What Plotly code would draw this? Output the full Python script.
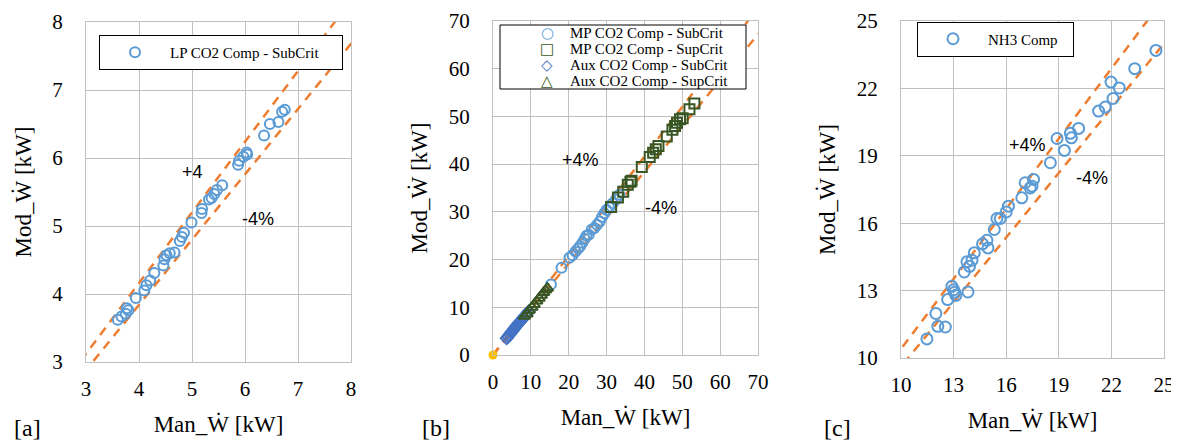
import plotly.graph_objects as go

# ---------------- data ----------------
# Panel [a]: LP CO2 compressor, sub-critical
a_man = [3.60, 3.67, 3.75, 3.80, 3.77, 3.94, 4.10, 4.14, 4.21, 4.29, 4.46, 4.48, 4.52, 4.58,
         4.67, 4.77, 4.81, 4.85, 4.99, 5.18, 5.19, 5.32, 5.37, 5.42, 5.47, 5.57, 5.87, 5.89,
         5.97, 6.03, 6.04, 6.36, 6.47, 6.63, 6.70, 6.75]
a_mod = [3.62, 3.67, 3.71, 3.76, 3.79, 3.94, 4.05, 4.13, 4.20, 4.31, 4.42, 4.51, 4.57, 4.60,
         4.61, 4.78, 4.84, 4.90, 5.05, 5.19, 5.25, 5.39, 5.41, 5.47, 5.53, 5.60, 5.90, 5.96,
         6.02, 6.08, 6.05, 6.33, 6.50, 6.53, 6.68, 6.71]

# Panel [b]
b_mp_sub_man = [15.3, 18.1, 20.2, 21.0, 21.8, 22.5, 23.0, 23.6, 24.2, 24.7, 25.3, 26.1, 26.8,
                27.5, 28.2, 28.8, 29.4, 30.0, 30.7, 31.6, 32.5, 33.4]
b_mp_sub_mod = [14.8, 18.3, 20.4, 20.9, 21.7, 22.3, 22.8, 23.5, 24.3, 25.0, 25.2, 26.3, 26.6,
                27.3, 28.0, 28.9, 29.7, 30.4, 30.9, 31.8, 32.6, 33.6]
b_mp_sup_man = [31.2, 33.0, 34.4, 35.6, 36.3, 36.6, 39.3, 41.4, 42.3, 43.0, 43.7, 45.9, 47.4,
                48.1, 48.6, 49.4, 50.1, 51.9, 53.2]
b_mp_sup_mod = [31.0, 33.0, 34.2, 35.7, 36.3, 36.5, 39.4, 41.5, 42.4, 43.1, 43.8, 45.8, 47.2,
                48.0, 48.7, 49.4, 49.6, 51.5, 52.7]
b_aux_sub_man = [3.6, 4.0, 4.4, 4.8, 5.2, 5.6, 6.0, 6.4, 6.8, 7.2, 7.6, 8.0, 8.5, 9.0, 9.4]
b_aux_sub_mod = [3.5, 3.9, 4.3, 4.7, 5.1, 5.5, 5.9, 6.3, 6.7, 7.0, 7.4, 7.8, 8.3, 8.7, 9.1]
b_aux_sup_man = [8.3, 9.0, 9.6, 10.3, 10.9, 11.6, 12.2, 12.8, 13.4, 13.9, 14.4]
b_aux_sup_mod = [8.1, 8.6, 9.4, 10.0, 10.6, 11.3, 11.9, 12.5, 13.1, 13.6, 14.0]
b_origin = [0.0]

# Panel [c]: NH3 compressor
c_man = [11.48, 11.99, 12.10, 12.53, 12.66, 12.90, 13.00, 13.13, 13.06, 13.82, 13.61, 13.76,
         13.91, 14.05, 14.18, 14.65, 14.90, 14.96, 15.32, 15.47, 15.66, 16.00, 16.13, 16.89,
         17.08, 17.37, 17.47, 17.56, 18.52, 18.90, 19.32, 19.66, 19.72, 20.13, 21.27, 21.65,
         21.98, 22.09, 22.45, 23.33, 24.54]
c_mod = [10.85, 11.98, 11.41, 11.38, 12.60, 13.19, 13.04, 12.79, 12.93, 12.94, 13.83, 14.28,
         14.08, 14.35, 14.68, 15.08, 15.24, 14.90, 15.72, 16.21, 16.21, 16.50, 16.76, 17.13,
         17.80, 17.57, 17.65, 17.95, 18.69, 19.77, 19.24, 20.00, 19.80, 20.22, 20.99, 21.17,
         22.28, 21.55, 22.02, 22.88, 23.69]

band_factors = [1.04, 0.96]
a_ticks = [3, 4, 5, 6, 7, 8]
b_ticks = [0, 10, 20, 30, 40, 50, 60, 70]
c_ticks = [10, 13, 16, 19, 22, 25]

b_names = ["MP CO2 Comp - SubCrit", "MP CO2 Comp - SupCrit",
           "Aux CO2 Comp - SubCrit", "Aux CO2 Comp - SupCrit"]

# ---------------- style ----------------
BLUE = "#5B9BD5"
DBLUE = "#4472C4"
GREEN = "#375623"
ORANGE = "#ED7D31"
GOLD = "#FFC000"
GRID = "#C0C0C0"
SERIF = "Liberation Serif, Times New Roman, serif"
SANS = "Liberation Sans, Arial, sans-serif"

fig = go.Figure()

def band(xa, ya, xmin, xmax):
    for f in band_factors:
        fig.add_trace(go.Scatter(
            x=[xmin, xmax], y=[f * xmin, f * xmax], mode="lines",
            line=dict(color=ORANGE, width=2.5, dash="9px,7px"),
            showlegend=False, hoverinfo="skip", xaxis=xa, yaxis=ya))

# panel a
band("x", "y", 2, 9)
fig.add_trace(go.Scatter(x=a_man, y=a_mod, mode="markers", name="LP CO2 Comp - SubCrit",
                         marker=dict(symbol="circle-open", size=10, color=BLUE, line=dict(width=2)),
                         xaxis="x", yaxis="y", legend="legend"))
# panel b
band("x2", "y2", 0, 80)
b_style = [("circle-open", 10, BLUE), ("square-open", 10, GREEN),
           ("diamond-open", 9, DBLUE), ("triangle-up-open", 10, GREEN)]
b_data = [(b_mp_sub_man, b_mp_sub_mod), (b_mp_sup_man, b_mp_sup_mod),
          (b_aux_sub_man, b_aux_sub_mod), (b_aux_sup_man, b_aux_sup_mod)]
for (xs, ys), name, (sym, sz, col) in zip(b_data, b_names, b_style):
    fig.add_trace(go.Scatter(x=xs, y=ys, mode="markers", name=name, showlegend=False,
                             marker=dict(symbol=sym, size=sz, color=col, line=dict(width=2)),
                             xaxis="x2", yaxis="y2"))
fig.add_trace(go.Scatter(x=b_origin, y=b_origin, mode="markers", showlegend=False,
                         marker=dict(symbol="circle", size=9, color=GOLD), cliponaxis=False,
                         xaxis="x2", yaxis="y2"))
# panel c
band("x3", "y3", 9, 26)
fig.add_trace(go.Scatter(x=c_man, y=c_mod, mode="markers", name="NH3 Comp",
                         marker=dict(symbol="circle-open", size=11, color=BLUE, line=dict(width=2)),
                         xaxis="x3", yaxis="y3", legend="legend3"))

# The page body has an 8px default margin, so the figure is sized to the
# visible part of the window and reference pixel positions are shifted by 8.
OFF = 8
W, H = 1179 - OFF, 443 - OFF
def px(v): return (v - OFF) / W
def py(v): return 1 - (v - OFF) / H

def axis(domain, ticks, anchor, title, is_x):
    return dict(
        domain=domain, range=[ticks[0], ticks[-1]], tickvals=ticks, anchor=anchor,
        showgrid=True, gridcolor=GRID, gridwidth=1, zeroline=False,
        showline=True, linecolor=GRID, linewidth=1, mirror=True, ticks="",
        tickfont=dict(family=SERIF, size=21, color="#000"),
        ticklabelstandoff=8 if is_x else 18,
        title=dict(text=title, font=dict(family=SERIF, size=23, color="#000"),
                   standoff=15 if is_x else 14),
        automargin=False, fixedrange=True)

panels = [
    ("", (86, 351), (22, 362), a_ticks),
    ("2", (493, 758), (21, 355), b_ticks),
    ("3", (901, 1164), (21, 358), c_ticks),
]
layout = dict(width=W, height=H, margin=dict(l=0, r=0, t=0, b=0),
              paper_bgcolor="white", plot_bgcolor="white", showlegend=True)
for s, (xl, xr), (yt, yb), ticks in panels:
    layout["xaxis" + s] = axis([px(xl), px(xr)], ticks, "y" + s, "Man_Ẇ [kW]", True)
    layout["yaxis" + s] = axis([py(yb), py(yt)], ticks, "x" + s, "Mod_Ẇ [kW]", False)

leg_font = dict(family=SERIF, size=15, color="#000")
layout["legend"] = dict(bgcolor="white", bordercolor="#000", borderwidth=1, font=leg_font,
                        x=px(99), y=py(52.5), xanchor="left", yanchor="middle",
                        orientation="h", entrywidth=167, itemwidth=60)
layout["legend3"] = dict(bgcolor="white", bordercolor="#000", borderwidth=1, font=leg_font,
                         x=px(917), y=py(39), xanchor="left", yanchor="middle",
                         orientation="h", entrywidth=80, itemwidth=60)

# compact 4-row key for panel [b]
shapes = [dict(type="rect", xref="paper", yref="paper", x0=px(500), x1=px(746),
               y0=py(89), y1=py(25), line=dict(color="#000", width=1),
               fillcolor="white", layer="above")]
annots = []
key_glyphs = ["○", "□", "◇", "△"]
for i, (name, glyph, (sym, sz, col)) in enumerate(zip(b_names, key_glyphs, b_style)):
    yc = 33 + 16 * i
    annots.append(dict(text="<b>" + glyph + "</b>", x=px(547), y=py(yc), xref="paper", yref="paper",
                       showarrow=False, xanchor="center", yanchor="middle",
                       font=dict(family="DejaVu Sans", size=15, color=col)))
    annots.append(dict(text=name, x=px(568), y=py(yc), xref="paper", yref="paper",
                       showarrow=False, xanchor="left", yanchor="middle",
                       font=leg_font))

def note(text, x, y, xr, yr):
    annots.append(dict(text=text, x=x, y=y, xref=xr, yref=yr, showarrow=False,
                       font=dict(family=SANS, size=18, color="#000")))
note("+4", 5.0, 5.8, "x", "y")
note("-4%", 6.25, 5.1, "x", "y")
note("+4%", 23, 40.8, "x2", "y2")
note("-4%", 44.4, 30.9, "x2", "y2")
note("+4%", 17.2, 19.5, "x3", "y3")
note("-4%", 20.9, 18.0, "x3", "y3")
for lab, cx in [("[a]", 27), ("[b]", 436), ("[c]", 837)]:
    annots.append(dict(text=lab, x=px(cx), y=0, xref="paper", yref="paper",
                       showarrow=False, xanchor="center", yanchor="bottom",
                       font=dict(family=SERIF, size=24, color="#000")))
layout["annotations"] = annots
layout["shapes"] = shapes

fig.update_layout(**layout)
fig.write_html("out.html")
